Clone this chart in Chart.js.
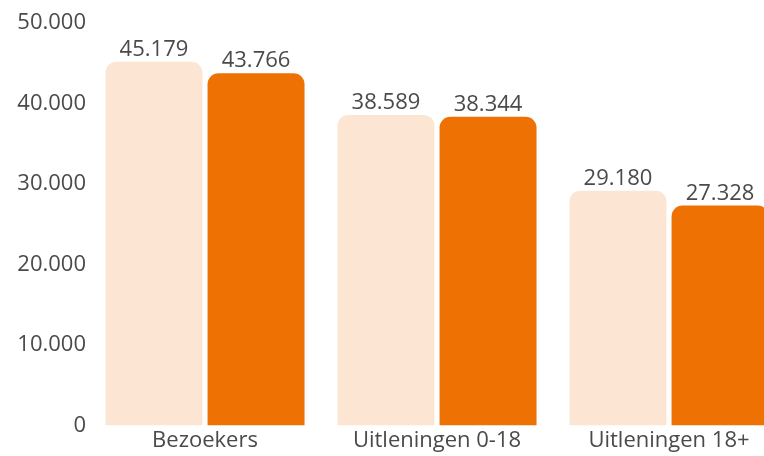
<!DOCTYPE html>
<html>
<head>
<meta charset="utf-8">
<script src="https://cdn.jsdelivr.net/npm/chart.js@4"></script>
<style>
  html, body { margin: 0; padding: 0; background: #fff; overflow: hidden; }
  #wrap { width: 764px; height: 456px; overflow: hidden; position: relative; }
  #box { width: 792px; height: 456px; position: absolute; left: 0; top: 0; }
</style>
</head>
<body>
<div id="wrap"><div id="box"><canvas id="chart"></canvas></div></div>
<script>
// Chart data
const categories = ['Bezoekers', 'Uitleningen 0-18', 'Uitleningen 18+'];
const previousYear = [45179, 38589, 29180];
const currentYear = [43766, 38344, 27328];
const yTicks = [0, 10000, 20000, 30000, 40000, 50000];

const textColor = '#4a4a4a';
const fontFamily = '"Open Sans", "Noto Sans", sans-serif';

function formatNumber(v) {
  return String(v).replace(/\B(?=(\d{3})+(?!\d))/g, '.');
}

// Draw the value above each bar
const valueLabels = {
  id: 'valueLabels',
  afterDatasetsDraw: function(chart) {
    const ctx = chart.ctx;
    ctx.save();
    ctx.font = '22px ' + fontFamily;
    ctx.fillStyle = textColor;
    ctx.textAlign = 'center';
    ctx.textBaseline = 'bottom';
    chart.data.datasets.forEach(function(ds, i) {
      const meta = chart.getDatasetMeta(i);
      meta.data.forEach(function(bar, j) {
        ctx.fillText(formatNumber(ds.data[j]), bar.x, bar.y - 1);
      });
    });
    ctx.restore();
  }
};

new Chart(document.getElementById('chart'), {
  type: 'bar',
  data: {
    labels: categories,
    datasets: [
      {
        label: 'Vorig jaar',
        data: previousYear,
        backgroundColor: '#fde5d3',
        borderRadius: { topLeft: 11, topRight: 11 },
        borderSkipped: false,
        categoryPercentage: 0.88,
        barPercentage: 0.95
      },
      {
        label: 'Dit jaar',
        data: currentYear,
        backgroundColor: '#ee7203',
        borderRadius: { topLeft: 11, topRight: 11 },
        borderSkipped: false,
        categoryPercentage: 0.88,
        barPercentage: 0.95
      }
    ]
  },
  options: {
    responsive: true,
    maintainAspectRatio: false,
    animation: false,
    layout: { padding: { top: 23, right: 7, bottom: 0, left: 0 } },
    plugins: {
      legend: { display: false },
      tooltip: { enabled: false }
    },
    scales: {
      x: {
        grid: { display: false, drawTicks: false },
        border: { display: false },
        ticks: {
          color: textColor,
          font: { family: fontFamily, size: 22 },
          padding: 2
        }
      },
      y: {
        min: 0,
        max: 50000,
        grid: { display: false, drawTicks: false },
        border: { display: false },
        afterBuildTicks: function(axis) {
          axis.ticks = yTicks.map(function(v) { return { value: v }; });
        },
        afterFit: function(axis) {
          axis.width = 89;
        },
        ticks: {
          color: textColor,
          font: { family: fontFamily, size: 22 },
          padding: 3,
          callback: function(v) { return formatNumber(v); }
        }
      }
    }
  },
  plugins: [valueLabels]
});
</script>
</body>
</html>
